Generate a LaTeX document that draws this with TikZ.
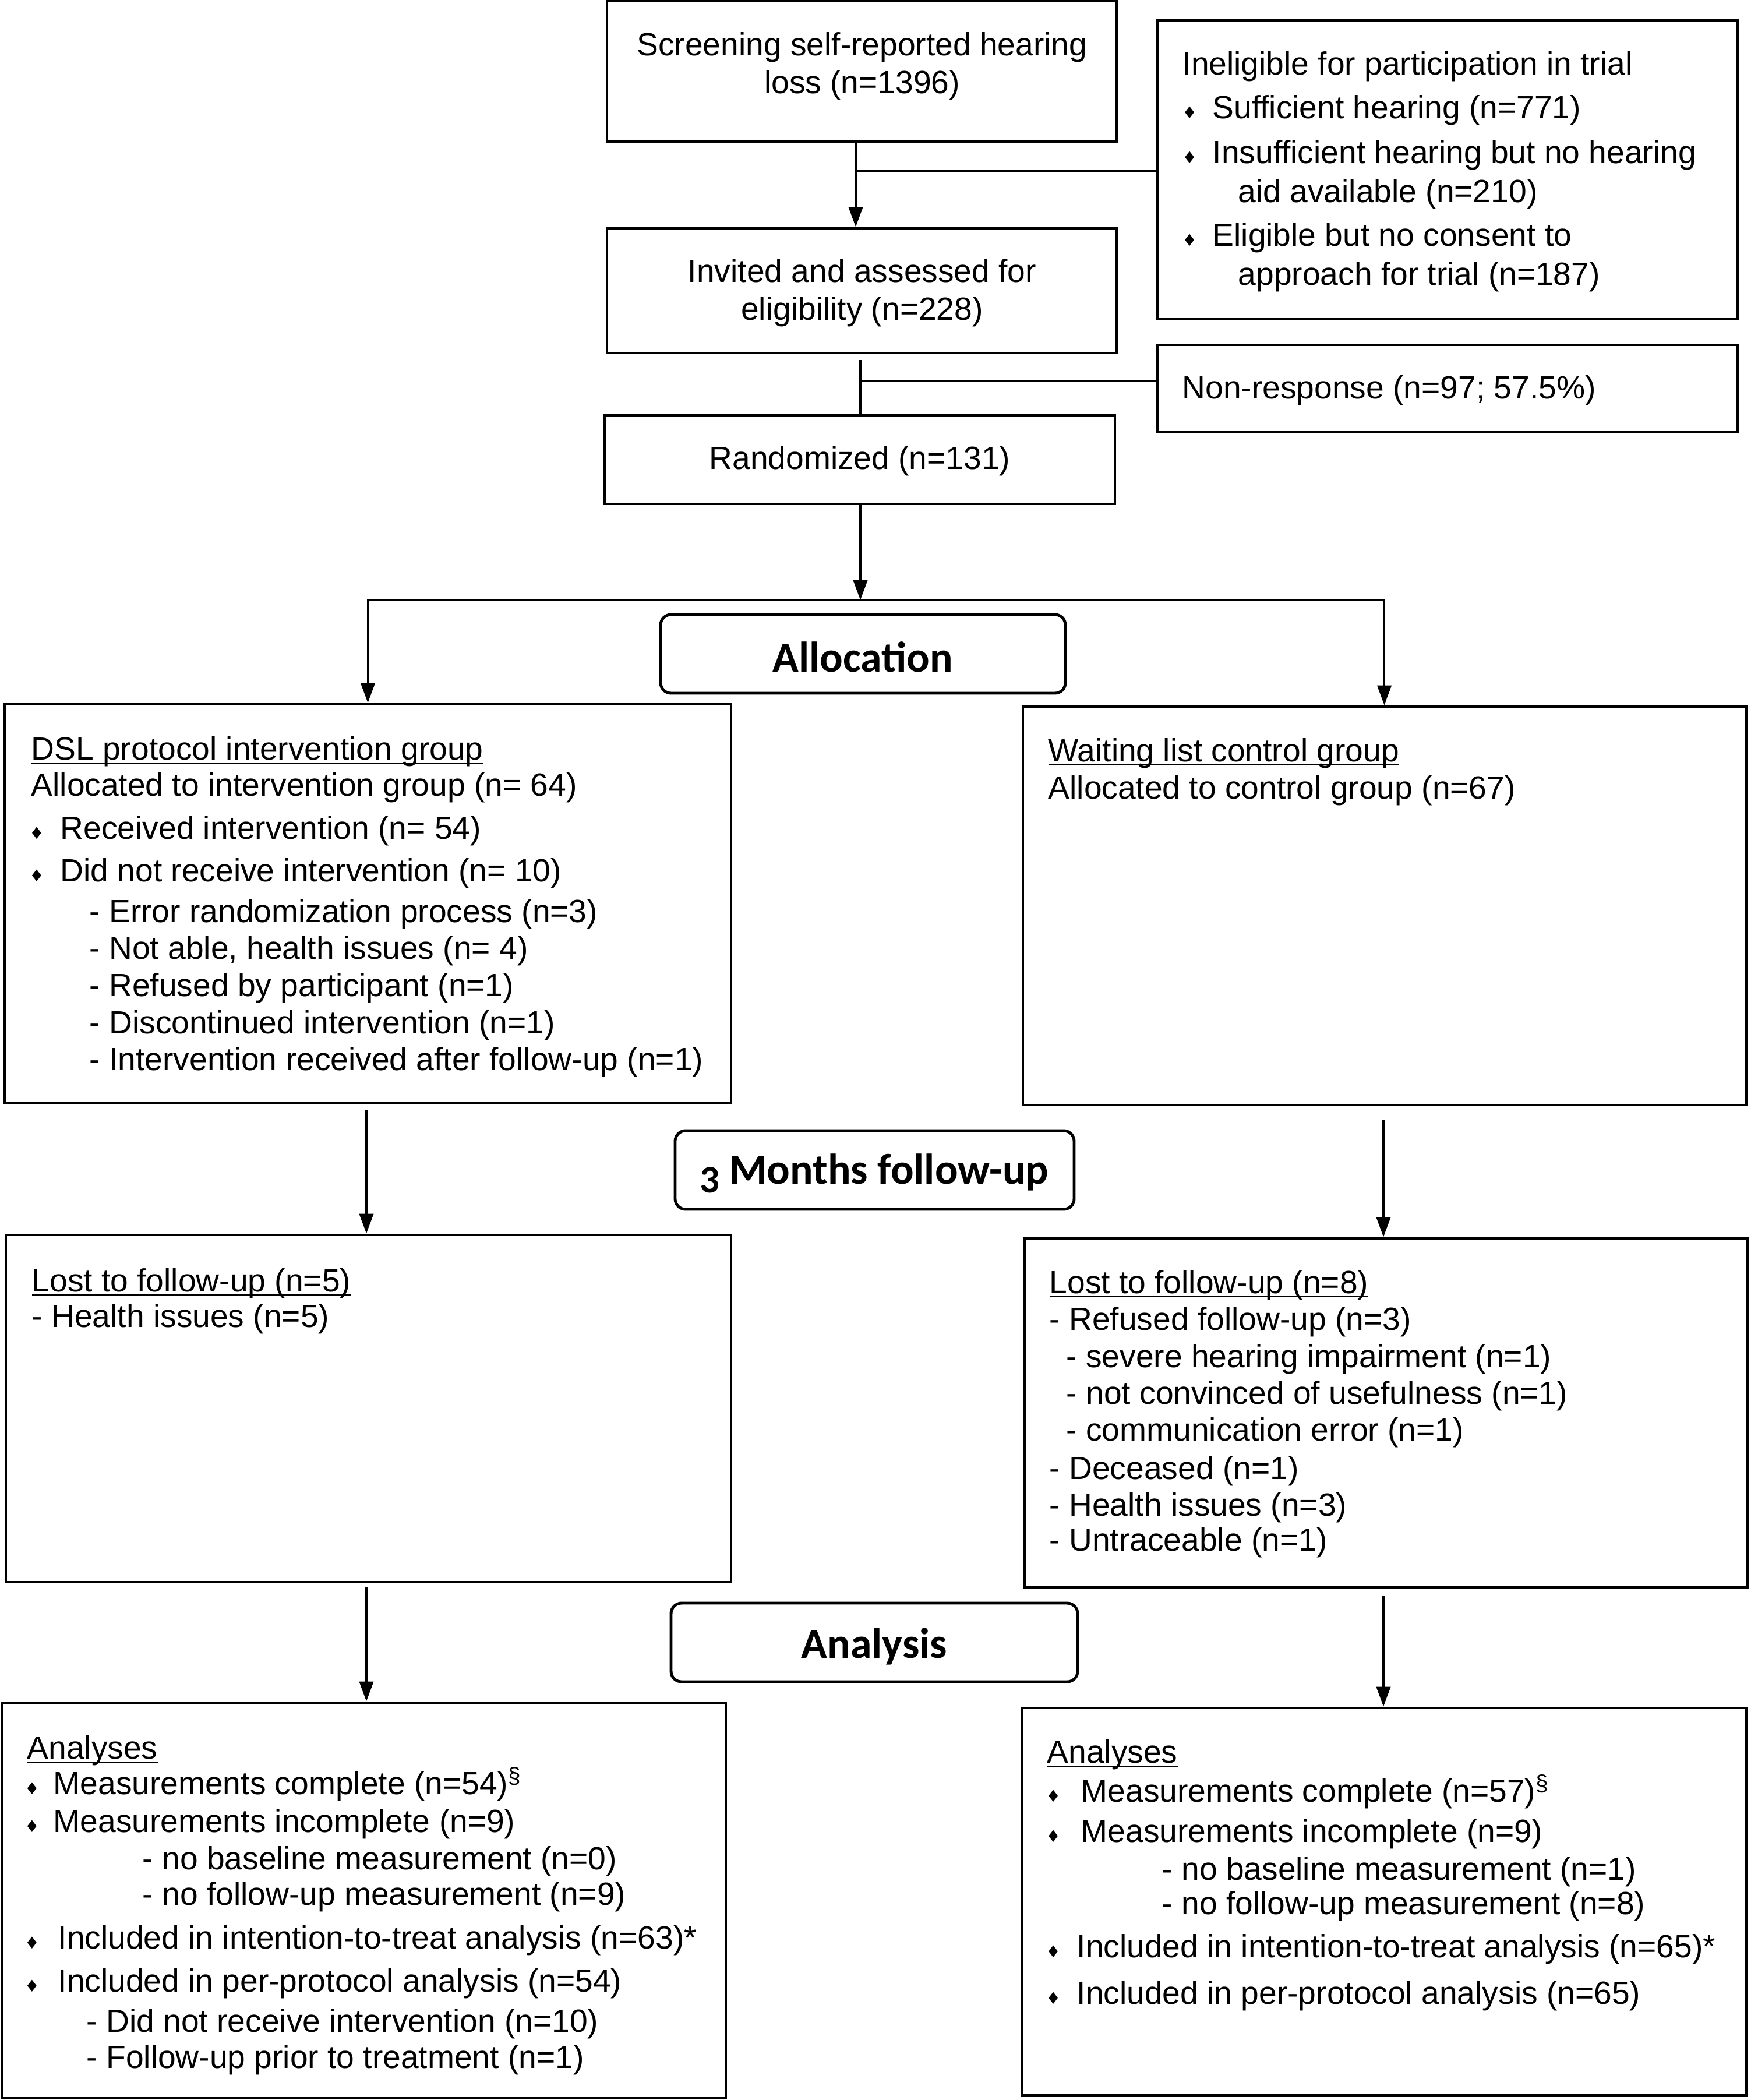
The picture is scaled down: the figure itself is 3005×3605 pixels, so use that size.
\documentclass[tikz,border=0pt]{standalone}
\usepackage{fontspec}
\setmainfont{Liberation Sans}
\newfontfamily\headfont{Carlito}
\newfontfamily\symfont{DejaVu Sans}
\usetikzlibrary{arrows.meta,fit}
\newcommand\bulg{{\symfont\fontsize{8}{8}\selectfont ♦}}
\newcommand\bul[1]{\llap{\bulg\hspace{#1}}}
\newsavebox\myulbox
\newcommand\myul[1]{\sbox\myulbox{#1}\rlap{\rule[-2pt]{\wd\myulbox}{0.7pt}}\usebox\myulbox}
\tikzset{
  x=0.1mm, y=-0.1mm,
  box/.style={draw, line width=1.4pt, inner sep=0pt},
  ctxt/.style={anchor=center, inner sep=0pt, align=center, font=\fontsize{15.7}{18.4}\selectfont},
  rbox/.style={draw, line width=1.4pt, rounded corners=1.8mm, inner sep=0pt},
  htxt/.style={anchor=center, inner sep=0pt, font=\headfont\bfseries\fontsize{21}{24}\selectfont},
  txt/.style={anchor=base west, inner sep=0pt, font=\fontsize{15.7}{18.4}\selectfont},
  ln/.style={line width=1.1pt},
  arr/.style={ln, -{Triangle[length=3.4mm,width=2.4mm]}},
}
\begin{document}
\begin{tikzpicture}
\useasboundingbox (0,0) rectangle (3005,3605);
% top boxes
\node[box, fit={(1042,2)(1917,243)}] (b1) {};
\node[ctxt] (b1t) at (1480,114) {Screening self-reported hearing\\loss (n=1396)};
\node[box, fit={(1987,35)(2982,548)}] (inel) {};
\node[box, fit={(1042,392)(1917,606)}] (b2) {};
\node[ctxt] (b2t) at (1480,503) {Invited and assessed for\\eligibility (n=228)};
\node[box, fit={(1987,592)(2982,742)}] (nonr) {};
\node[box, fit={(1038,713)(1914,865)}] (rand) {};
\node[ctxt] (randt) at (1476,791) {Randomized (n=131)};
% ineligible text
\node[txt] (i0) at (2029,129) {Ineligible for participation in trial};
\node[txt] (i1) at (2081,204) {\bul{2.7mm}Sufficient hearing (n=771)};
\node[txt] (i2) at (2081,280) {\bul{2.7mm}Insufficient hearing but no hearing};
\node[txt] (i3) at (2125,347) {aid available (n=210)};
\node[txt] (i4) at (2081,422) {\bul{2.7mm}Eligible but no consent to};
\node[txt] (i5) at (2125,489) {approach for trial (n=187)};
\node[txt] (n0) at (2029,684) {Non-response (n=97; 57.5\%)};
% phase labels
\node[rbox, fit={(1134,1055)(1829,1190)}] (alloc) {};
\node[htxt] (alloct) at (1481,1128) {Allocation};
\node[rbox, fit={(1159,1941)(1844,2076)}] (fup) {};
\node[htxt] (fupt) at (1501,2014) {\raisebox{-0.2em}{\fontsize{19}{24}\selectfont 3} Months follow-up};
\node[rbox, fit={(1152,2752)(1850,2887)}] (anal) {};
\node[htxt] (analt) at (1501,2826) {Analysis};
% allocation boxes
\node[box, fit={(8,1209)(1255,1894)}] (dsl) {};
\node[txt] (d0) at (53,1304) {\myul{DSL protocol intervention group}};
\node[txt] (d1) at (53,1366) {Allocated to intervention group (n= 64)};
\node[txt] (d2) at (103,1440) {\bul{2.8mm}Received intervention (n= 54)};
\node[txt] (d3) at (103,1513) {\bul{2.8mm}Did not receive intervention (n= 10)};
\node[txt] (d4) at (153,1583) {- Error randomization process (n=3)};
\node[txt] (d5) at (153,1646) {- Not able, health issues (n= 4)};
\node[txt] (d6) at (153,1710) {- Refused by participant (n=1)};
\node[txt] (d7) at (153,1774) {- Discontinued intervention (n=1)};
\node[txt] (d8) at (153,1837) {- Intervention received after follow-up (n=1)};
\node[box, fit={(1756,1213)(2997,1897)}] (wait) {};
\node[txt] (w0) at (1799,1307) {\myul{Waiting list control group}};
\node[txt] (w1) at (1799,1371) {Allocated to control group (n=67)};
% follow-up boxes
\node[box, fit={(10,2120)(1255,2716)}] (lostL) {};
\node[txt] (l0) at (54,2217) {\myul{Lost to follow-up (n=5)}};
\node[txt] (l1) at (54,2278) {- Health issues (n=5)};
\node[box, fit={(1759,2126)(2999,2725)}] (lostR) {};
\node[txt] (r0) at (1801,2220) {\myul{Lost to follow-up (n=8)}};
\node[txt] (r1) at (1801,2283) {- Refused follow-up (n=3)};
\node[txt] (r2) at (1830,2347) {- severe hearing impairment (n=1)};
\node[txt] (r3) at (1830,2410) {- not convinced of usefulness (n=1)};
\node[txt] (r4) at (1830,2473) {- communication error (n=1)};
\node[txt] (r5) at (1801,2539) {- Deceased (n=1)};
\node[txt] (r6) at (1801,2602) {- Health issues (n=3)};
\node[txt] (r7) at (1801,2662) {- Untraceable (n=1)};
% analysis boxes
\node[box, fit={(3,2923)(1246,3601)}] (anaL) {};
\node[txt] (a0) at (46,3019) {\myul{Analyses}};
\node[txt] (a1) at (91,3080) {\bul{2.4mm}Measurements complete (n=54)\textsuperscript{\S}};
\node[txt] (a2) at (91,3145) {\bul{2.4mm}Measurements incomplete (n=9)};
\node[txt] (a3) at (244,3209) {- no baseline measurement (n=0)};
\node[txt] (a4) at (244,3270) {- no follow-up measurement (n=9)};
\node[txt] (a5) at (99,3345) {\bul{3.2mm}Included in intention-to-treat analysis (n=63)*};
\node[txt] (a6) at (99,3419) {\bul{3.2mm}Included in per-protocol analysis (n=54)};
\node[txt] (a7) at (148,3488) {- Did not receive intervention (n=10)};
\node[txt] (a8) at (148,3550) {- Follow-up prior to treatment (n=1)};
\node[box, fit={(1754,2932)(2997,3596)}] (anaR) {};
\node[txt] (c0) at (1797,3026) {\myul{Analyses}};
\node[txt] (c1) at (1855,3093) {\bul{3.5mm}Measurements complete (n=57)\textsuperscript{\S}};
\node[txt] (c2) at (1855,3162) {\bul{3.5mm}Measurements incomplete (n=9)};
\node[txt] (c3) at (1994,3227) {- no baseline measurement (n=1)};
\node[txt] (c4) at (1994,3286) {- no follow-up measurement (n=8)};
\node[txt] (c5) at (1848,3360) {\bul{2.8mm}Included in intention-to-treat analysis (n=65)*};
\node[txt] (c6) at (1848,3440) {\bul{2.8mm}Included in per-protocol analysis (n=65)};
% connectors
\coordinate (x1) at (1469,0);
\coordinate (j1) at (1469,294);
\draw[arr] (b1.south -| x1) -- (b2.north -| x1);
\draw[ln] (inel.west |- j1) -- (j1);
\coordinate (x2) at (1477,0);
\coordinate (j2) at (1477,654);
\draw[ln, shorten <=1mm] (b2.south -| x2) -- (rand.north -| x2);
\draw[ln] (nonr.west |- j2) -- (j2);
\coordinate (split) at (1477,1030);
\draw[arr] (rand.south -| x2) -- (split);
\draw[arr] (split) -| (dsl.north);
\draw[arr] (split) -| (wait.north);
\coordinate (xl) at (629,0);
\coordinate (xr) at (2375,0);
\draw[arr, shorten <=1mm] (dsl.south -| xl) -- (lostL.north -| xl);
\draw[arr, shorten <=2.4mm] (wait.south -| xr) -- (lostR.north -| xr);
\draw[arr, shorten <=0.6mm] (lostL.south -| xl) -- (anaL.north -| xl);
\draw[arr, shorten <=1.3mm] (lostR.south -| xr) -- (anaR.north -| xr);
\end{tikzpicture}
\end{document}
